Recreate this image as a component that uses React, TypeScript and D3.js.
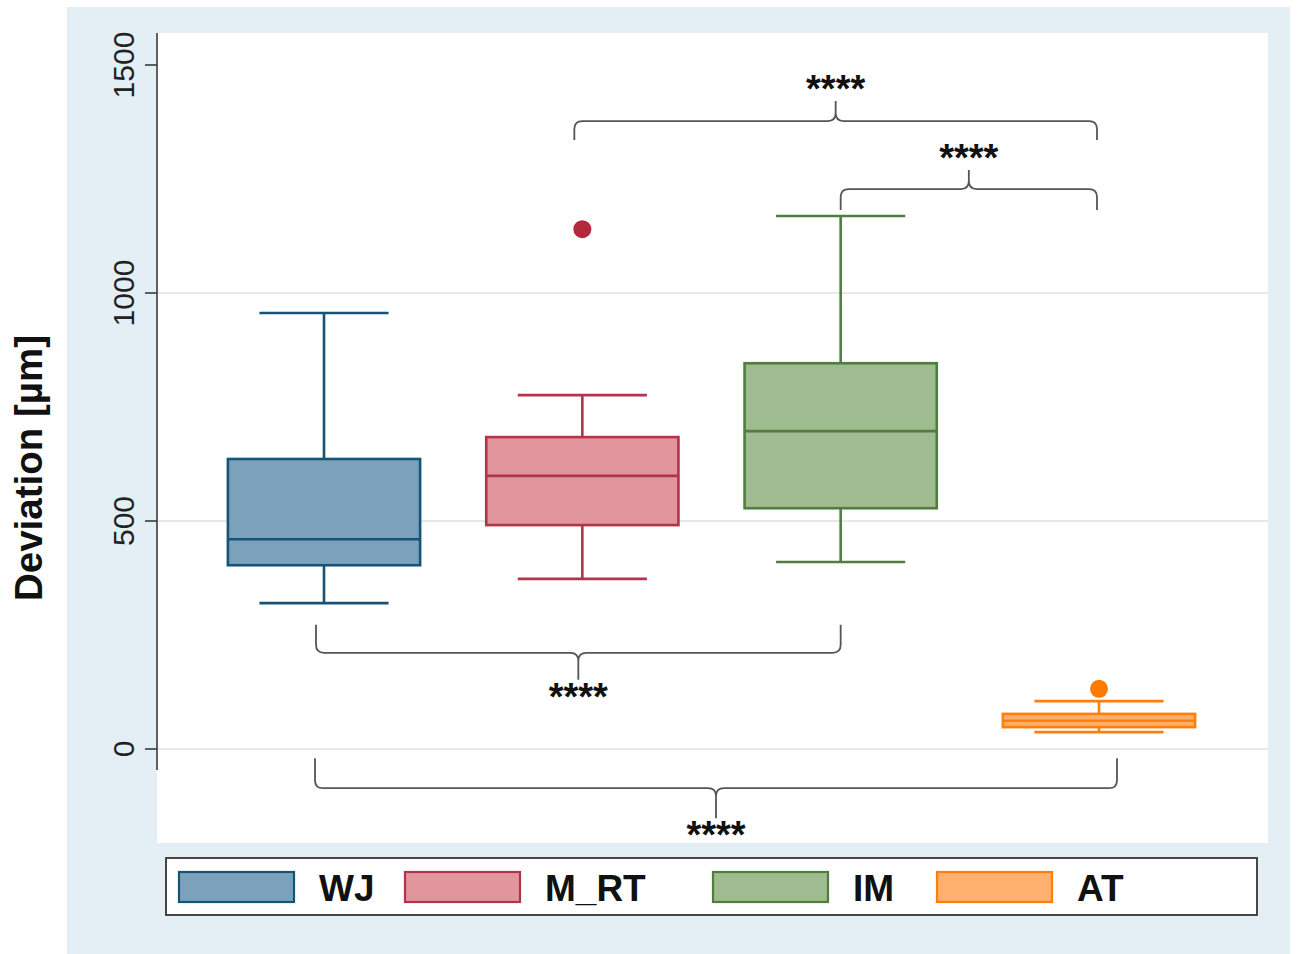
import React from "react";
import * as d3 from "d3";

// ---------- data ----------
const categories = ["WJ", "M_RT", "IM", "AT"];
const lowerWhisker = [320, 373, 410, 37];
const q1 = [403, 491, 528, 48];
const median = [460, 599, 697, 62];
const q3 = [636, 684, 846, 77];
const upperWhisker = [956, 776, 1169, 105];
const outliers: { cat: string; value: number }[] = [
  { cat: "M_RT", value: 1140 },
  { cat: "AT", value: 132 },
];
const yTicks = [0, 500, 1000, 1500];
const yLabel = "Deviation [µm]";

// significance comparisons (value = bracket level on the y axis)
const comparisons = [
  { a: "M_RT", b: "AT", level: 1377, side: "above", label: "****", dxA: -8, dxB: -2, endLen: 19, tipLen: 20 },
  { a: "IM", b: "AT", level: 1228, side: "above", label: "****", dxA: 0, dxB: -2, endLen: 21, tipLen: 19 },
  { a: "WJ", b: "IM", level: 211, side: "below", label: "****", dxA: -8, dxB: 0, endLen: 28, tipLen: 27 },
  { a: "WJ", b: "AT", level: -86, side: "below", label: "****", dxA: -9, dxB: 18, endLen: 30, tipLen: 30 },
];

// ---------- styles ----------
const fills = ["#7ca2bb", "#e1959d", "#9fbb90", "#ffb06e"];
const strokes = ["#145577", "#b03548", "#4f7d3e", "#ff7f0e"];
const outlierColors: Record<string, string> = { M_RT: "#b3283b", AT: "#ff7a00" };
const legendX = [179, 405, 713, 937];

const FONT = "'Liberation Sans', Arial, Helvetica, sans-serif";

export default function App() {
  const W = 1299;
  const H = 954;
  const plotLeft = 157;
  const plotRight = 1268;

  const x = d3.scalePoint<string>().domain(categories).range([324, 1099]);
  const step = x.step();
  const boxW = step * 0.744;
  const capW = step * 0.5;
  const y = d3.scaleLinear().domain([0, 1500]).range([749, 65]);

  const bracePath = (x1: number, x2: number, yH: number, yEnd: number, tipX: number, yTip: number) => {
    const rc = 8;
    const s = Math.sign(yEnd - yH); // direction of ends
    const p = d3.path();
    p.moveTo(x1, yEnd);
    p.lineTo(x1, yH + s * rc);
    p.quadraticCurveTo(x1, yH, x1 + rc, yH);
    p.lineTo(tipX - rc, yH);
    p.quadraticCurveTo(tipX, yH, tipX, yH - s * rc);
    p.lineTo(tipX, yTip);
    p.moveTo(tipX, yH - s * rc);
    p.quadraticCurveTo(tipX, yH, tipX + rc, yH);
    p.lineTo(x2 - rc, yH);
    p.quadraticCurveTo(x2, yH, x2, yH + s * rc);
    p.lineTo(x2, yEnd);
    return p.toString();
  };

  return (
    <svg
      width={W}
      height={H}
      style={{ position: "absolute", left: 0, top: 0, background: "#ffffff" }}
      fontFamily={FONT}
    >
      {/* backgrounds */}
      <rect x={67} y={7} width={1223} height={947} fill="#e3eff4" />
      <rect x={plotLeft} y={33} width={plotRight - plotLeft} height={810} fill="#ffffff" />

      {/* gridlines */}
      {yTicks.slice(0, 3).map((t) => (
        <line key={"g" + t} x1={plotLeft} x2={plotRight} y1={y(t)} y2={y(t)} stroke="#e6e9ea" strokeWidth={2} />
      ))}

      {/* y axis */}
      <line x1={plotLeft} x2={plotLeft} y1={33} y2={770} stroke="#3a3a3a" strokeWidth={1.6} />
      {yTicks.map((t) => (
        <g key={"t" + t}>
          <line x1={plotLeft - 12} x2={plotLeft} y1={y(t)} y2={y(t)} stroke="#3a3a3a" strokeWidth={1.6} />
          <text
            transform={`translate(${134},${y(t)}) rotate(-90)`}
            textAnchor="middle"
            fontSize={30}
            fill="#222"
          >
            {t}
          </text>
        </g>
      ))}
      <text
        transform={`translate(${42},${468}) rotate(-90)`}
        textAnchor="middle"
        fontSize={38.5}
        fontWeight="bold"
        fill="#111"
      >
        {yLabel}
      </text>

      {/* boxes */}
      {categories.map((c, i) => {
        const cx = x(c)!;
        return (
          <g key={c} stroke={strokes[i]} strokeWidth={2.6}>
            <line x1={cx} x2={cx} y1={y(upperWhisker[i])} y2={y(q3[i])} />
            <line x1={cx} x2={cx} y1={y(q1[i])} y2={y(lowerWhisker[i])} />
            <line x1={cx - capW / 2} x2={cx + capW / 2} y1={y(upperWhisker[i])} y2={y(upperWhisker[i])} />
            <line x1={cx - capW / 2} x2={cx + capW / 2} y1={y(lowerWhisker[i])} y2={y(lowerWhisker[i])} />
            <rect
              x={cx - boxW / 2}
              y={y(q3[i])}
              width={boxW}
              height={y(q1[i]) - y(q3[i])}
              fill={fills[i]}
            />
            <line x1={cx - boxW / 2} x2={cx + boxW / 2} y1={y(median[i])} y2={y(median[i])} />
          </g>
        );
      })}

      {/* outliers */}
      {outliers.map((o, i) => (
        <circle key={"o" + i} cx={x(o.cat)!} cy={y(o.value)} r={9} fill={outlierColors[o.cat]} />
      ))}

      {/* significance braces */}
      {comparisons.map((cmp, i) => {
        const x1 = x(cmp.a)! + cmp.dxA;
        const x2 = x(cmp.b)! + cmp.dxB;
        const yH = y(cmp.level);
        const s = cmp.side === "above" ? 1 : -1; // ends direction (+1 = down)
        const yEnd = yH + s * cmp.endLen;
        const yTip = yH - s * cmp.tipLen;
        const tipX = (x1 + x2) / 2;
        const textBase = cmp.side === "above" ? yTip + 1 : yTip + 30;
        return (
          <g key={"c" + i}>
            <path d={bracePath(x1, x2, yH, yEnd, tipX, yTip)} fill="none" stroke="#555" strokeWidth={1.8} />
            <text x={tipX} y={textBase} textAnchor="middle" fontSize={38} fontWeight="bold" fill="#111">
              {cmp.label}
            </text>
          </g>
        );
      })}

      {/* legend */}
      <rect x={166} y={858} width={1091} height={57} fill="#ffffff" stroke="#333" strokeWidth={1.8} />
      {categories.map((c, i) => (
        <g key={"l" + c}>
          <rect x={legendX[i]} y={872} width={115} height={30} fill={fills[i]} stroke={strokes[i]} strokeWidth={2.2} />
          <text x={legendX[i] + 140} y={901} fontSize={37} fontWeight="bold" fill="#111">
            {c}
          </text>
        </g>
      ))}
    </svg>
  );
}
